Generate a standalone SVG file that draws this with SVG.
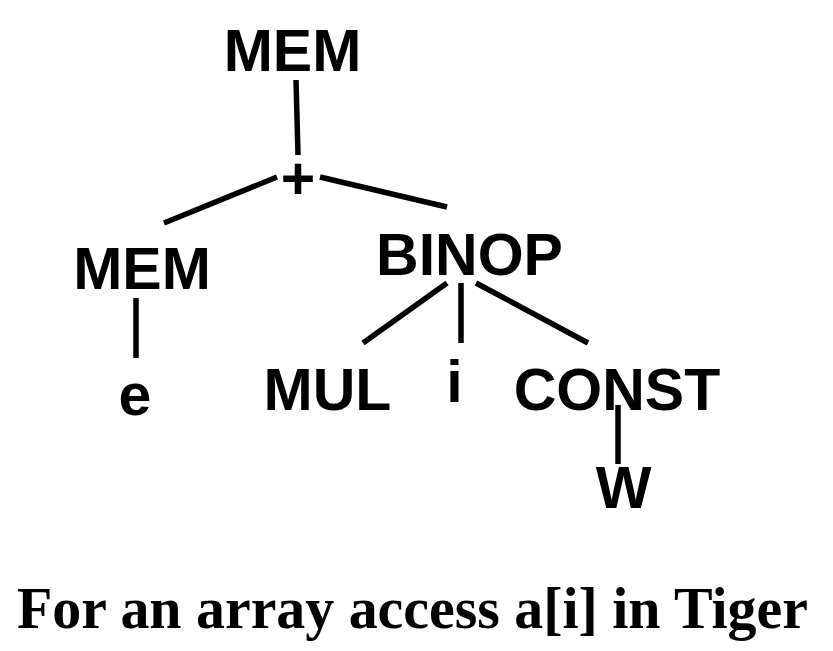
<svg xmlns="http://www.w3.org/2000/svg" width="833" height="651" viewBox="0 0 833 651">
<style>
.n{font-family:"Liberation Sans",Arial,sans-serif;font-weight:bold;font-size:59px;fill:#000;text-anchor:middle}
.c{font-family:"Liberation Serif","Times New Roman",serif;font-weight:bold;font-size:60px;fill:#000}
.e line{stroke:#000;stroke-width:5.5;stroke-linecap:butt}
</style>
<rect width="833" height="651" fill="#fff"/>
<g id="connectors" class="e">
<line x1="296" y1="80" x2="298" y2="155"/>
<line x1="277" y1="177" x2="164" y2="223"/>
<line x1="320" y1="177" x2="447" y2="207"/>
<line x1="136" y1="298" x2="136" y2="358"/>
<line x1="447" y1="283" x2="363" y2="343"/>
<line x1="461" y1="283" x2="461" y2="343"/>
<line x1="476" y1="283" x2="588" y2="343"/>
<line x1="618" y1="405" x2="618" y2="464"/>
</g>
<g id="mem-root"><text class="n" x="292.5" y="71">MEM</text></g>
<g id="plus"><text class="n" x="298" y="199">+</text></g>
<g id="mem-left"><text class="n" x="142" y="289">MEM</text></g>
<g id="binop"><text class="n" x="469.5" y="275">BINOP</text></g>
<g id="e"><text class="n" x="135" y="415">e</text></g>
<g id="mul"><text class="n" x="327.5" y="410">MUL</text></g>
<g id="i"><text class="n" x="454.5" y="402">i</text></g>
<g id="const"><text class="n" x="617" y="410">CONST</text></g>
<g id="w"><text class="n" x="623.5" y="508">W</text></g>
<g id="caption"><text class="c" transform="translate(17,628) scale(0.965,1)" x="0" y="0">For an array access a[i] in Tiger</text></g>
</svg>
